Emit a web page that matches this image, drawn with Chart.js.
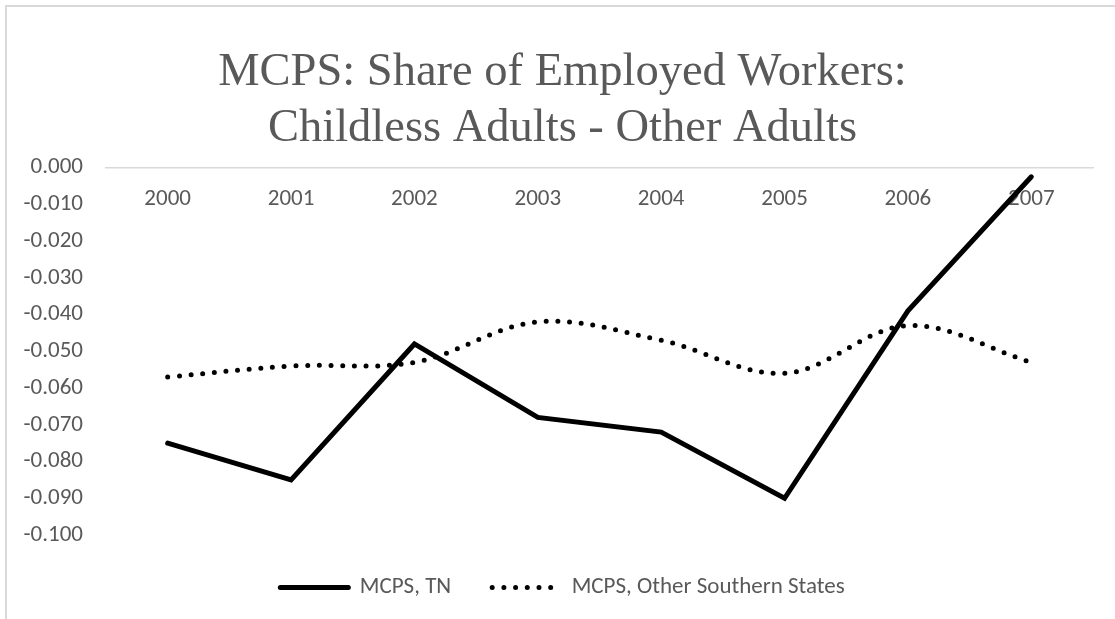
<!DOCTYPE html>
<html>
<head>
<meta charset="utf-8">
<script src="https://cdn.jsdelivr.net/npm/chart.js@4/dist/chart.umd.min.js"></script>
<style>
	html, body { margin: 0; padding: 0; background: #fff; overflow: hidden; }
	#frame {
		position: absolute; left: 5px; top: 5px; width: 1300px; height: 800px;
		border-left: 2px solid #d9d9d9; border-top: 2px solid #d9d9d9;
	}
	#wrap { position: absolute; left: 0; top: 0; width: 1125px; height: 619px; }
</style>
</head>
<body>
<div id="frame"></div>
<div id="wrap"><canvas id="chart"></canvas></div>
<script>
const years = ["2000", "2001", "2002", "2003", "2004", "2005", "2006", "2007"];
const tnValues = [-0.075, -0.085, -0.048, -0.068, -0.072, -0.090, -0.039, -0.0025];
const otherValues = [-0.057, -0.054, -0.053, -0.042, -0.047, -0.056, -0.043, -0.053];
const titleLines = ["MCPS: Share of Employed Workers:", "Childless Adults - Other Adults"];

const grey = "#595959";
const sans = "Carlito, Calibri, Lato, sans-serif";

// point style legend drops the dash, put it back from the dataset
const legendLabels = chart => {
	let items = Chart.defaults.plugins.legend.labels.generateLabels(chart);
	items.forEach(item => {
		let ds = chart.data.datasets[item.datasetIndex];
		item.lineDash = ds.borderDash || [];
		item.lineCap = "round";
		item.lineWidth = ds.borderWidth;
		item.strokeStyle = ds.borderColor;
	});
	return items;
};

// title + legend sit a bit right of the canvas centre in the original
const centreShift = {
	id: "centreShift",
	afterLayout: chart => {
		const dx = 16;
		chart.titleBlock.left += dx;
		chart.titleBlock.right += dx;
		chart.legend.left += dx;
		chart.legend.right += dx;
	}
};

window.addEventListener("load", () => {
	new Chart(document.getElementById("chart"), {
		type: "line",
		data: {
			labels: years,
			datasets: [{
				label: "MCPS, TN",
				data: tnValues,
				borderColor: "#000",
				backgroundColor: "#000",
				borderWidth: 5,
				borderCapStyle: "round",
				pointRadius: 0,
				tension: 0
			}, {
				label: "MCPS, Other Southern States",
				data: otherValues,
				borderColor: "#000",
				backgroundColor: "#000",
				borderWidth: 5,
				borderCapStyle: "round",
				borderDash: [0, 11.7],
				pointRadius: 0,
				tension: 0.35
			}]
		},
		options: {
			responsive: true,
			maintainAspectRatio: false,
			animation: false,
			layout: { padding: { left: 0, right: 32, top: 0, bottom: 10 } },
			scales: {
				x: {
					position: { y: 0 },
					offset: true,
					grid: { display: false },
					border: { display: true, color: "#d9d9d9", width: 1.5 },
					ticks: { color: grey, font: { family: sans, size: 23 }, padding: 10, maxRotation: 0 }
				},
				y: {
					min: -0.1,
					max: 0,
					grid: { display: false },
					border: { display: false },
					ticks: {
						stepSize: 0.01,
						color: grey,
						font: { family: sans, size: 23 },
						padding: 15,
						callback: v => v.toFixed(3)
					},
					afterFit: scale => { scale.width = 106; }
				}
			},
			plugins: {
				title: {
					display: true,
					text: titleLines,
					color: grey,
					font: { family: "'Liberation Serif', 'Times New Roman', serif", size: 46.5, weight: "normal", lineHeight: 1.2 },
					padding: { top: 45, bottom: 11 }
				},
				legend: {
					position: "bottom",
					labels: {
						usePointStyle: true,
						pointStyle: "line",
						pointStyleWidth: 68,
						color: grey,
						font: { family: sans, size: 23 },
						padding: 41,
						generateLabels: legendLabels
					}
				},
				tooltip: { enabled: false }
			}
		},
		plugins: [centreShift]
	});
});
</script>
</body>
</html>
